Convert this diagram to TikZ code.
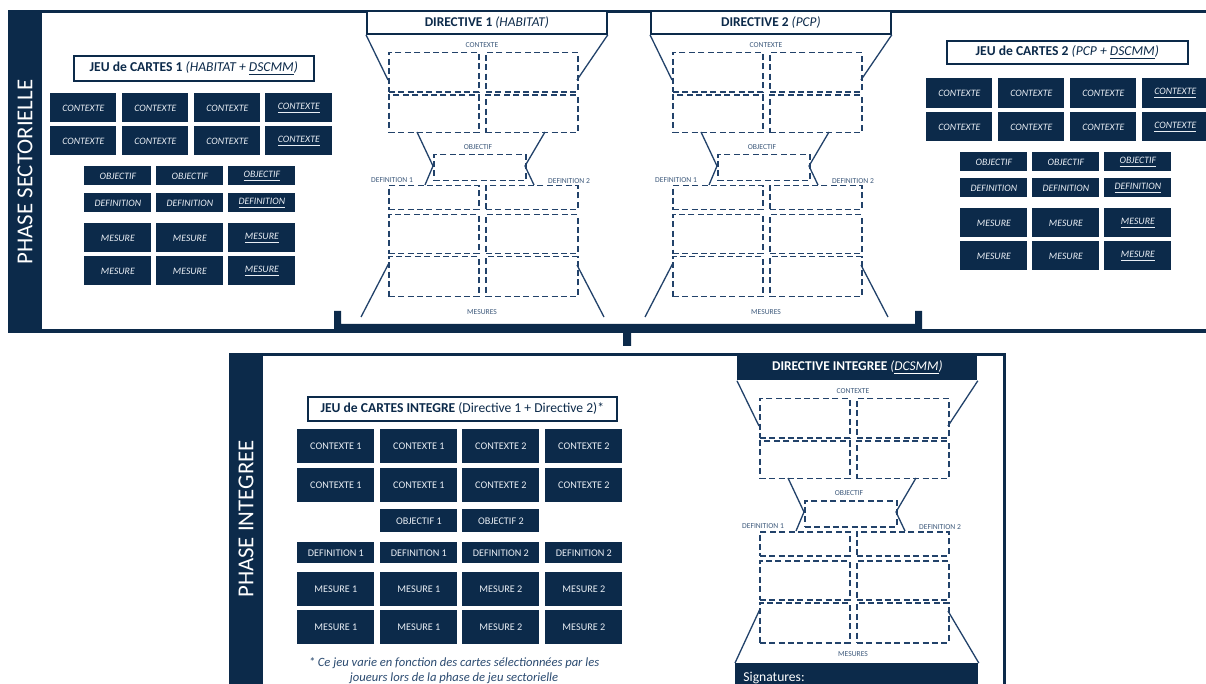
\documentclass[tikz,border=0pt]{standalone}
\usepackage{fontspec}
\setmainfont{Carlito}
\definecolor{navy}{HTML}{0C2A4A}
\definecolor{dline}{HTML}{22426A}
\definecolor{lblc}{HTML}{3E5A7C}
\definecolor{ctxt}{HTML}{E9EEF4}
\definecolor{soft}{HTML}{2A4A70}
\newcommand{\rbox}[6]{\node[#6, anchor=north west, minimum width={(#4-#2)*0.5pt}, minimum height={(#5-#3)*0.5pt}] (#1) at (#2,#3)}
\newcommand{\fs}[1]{\fontsize{#1}{#1}\selectfont}
\tikzset{
 card/.style={fill=navy, text=ctxt, inner sep=0pt, font=\fs{4.9}\itshape},
 bcard/.style={fill=navy, text=ctxt, inner sep=0pt, font=\fs{5.1}},
 titlebox/.style={draw=navy, line width=0.8pt, fill=white, text=navy, inner sep=0pt, font=\fs{6.8}},
 hdr/.style={draw=navy, line width=0.9pt, fill=white, text=navy, inner sep=0pt, font=\fs{6.7}},
 hdrdark/.style={fill=navy, text=white, inner sep=0pt, font=\fs{6.7}},
 dbox/.style={draw=dline, line width=0.75pt, dash pattern=on 3pt off 1.7pt, inner sep=0pt},
 slbl/.style={text=lblc, font=\fs{3.8}, inner sep=0pt},
 conn/.style={draw=dline, line width=0.65pt},
 phase/.style={rotate=90, text=white, font=\fs{11.4}, inner sep=0pt},
}
\newcommand{\dirbody}[4]{%
\begin{scope}[shift={(#2,#3)}]
\node[slbl] (#1-lc) at (116,35) {CONTEXTE};
\rbox{#1-ca1}{22}{42}{112}{81.5}{dbox}{};
\rbox{#1-ca2}{22}{84.5}{112}{122}{dbox}{};
\rbox{#1-cb1}{119}{42}{211}{81.5}{dbox}{};
\rbox{#1-cb2}{119}{84.5}{211}{122}{dbox}{};
\node[slbl] (#1-lo) at (112,137) {OBJECTIF};
\rbox{#1-ob}{67}{144}{159}{170}{dbox}{};
\node[slbl] (#1-ld1) at (26,170) {DEFINITION 1};
\node[slbl] (#1-ld2) at (203,171) {DEFINITION 2};
\rbox{#1-da}{22}{175}{112}{199}{dbox}{};
\rbox{#1-db}{119}{175}{211}{199}{dbox}{};
\rbox{#1-ma1}{22}{204}{112}{243}{dbox}{};
\rbox{#1-ma2}{22}{246}{112}{286}{dbox}{};
\rbox{#1-mb1}{119}{204}{211}{243}{dbox}{};
\rbox{#1-mb2}{119}{246}{211}{286}{dbox}{};
\node[slbl] (#1-lm) at (116,#4) {MESURES};
\coordinate (#1-p1) at (22,70);
\coordinate (#1-p2) at (211,70);
\coordinate (#1-p3) at (51,122);
\coordinate (#1-p4) at (67,156);
\coordinate (#1-p5) at (59,175);
\coordinate (#1-p6) at (179,122);
\coordinate (#1-p7) at (159,156);
\coordinate (#1-p8) at (168,175);
\coordinate (#1-p9) at (23,253);
\coordinate (#1-p10) at (211,255);
\end{scope}
\draw[conn] (#1-hdr.south west) -- (#1-p1);
\draw[conn] (#1-hdr.south east) -- (#1-p2);
\draw[conn] (#1-p3) -- (#1-p4) -- (#1-p5);
\draw[conn] (#1-p6) -- (#1-p7) -- (#1-p8);
\draw[conn] (#1-p9) -- (#1-bl);
\draw[conn] (#1-p10) -- (#1-br);
}
\begin{document}
\begin{tikzpicture}[x=0.5pt,y=-0.5pt]
\useasboundingbox (0,0) rectangle (1206,684);
\fill[white] (0,0) rectangle (1206,684);
% ---------- top panel
\fill[navy] (8,10) rectangle (42,333);
\fill[navy] (8,10) rectangle (1206,13);
\fill[navy] (8,329) rectangle (1206,333);
\fill[navy] (334,311) -- (341,311) -- (341,324) -- (915,324) -- (915,311) -- (922,311)
  -- (922,333) -- (631,333) -- (631,346) -- (623,346) -- (623,333) -- (334,333) -- cycle;
\node[phase] (ps) at (25,172) {PHASE SECTORIELLE};
% ---------- bottom panel
\fill[navy] (229,354) rectangle (263,684);
\fill[navy] (229,353) rectangle (1006,356);
\fill[navy] (1003,353) rectangle (1006,684);
\node[phase] (pi) at (246,519) {PHASE INTEGREE};

% ---------- cards 1
\rbox{t1}{73}{55}{313}{80}{titlebox}{\textbf{JEU de CARTES 1} \textit{(HABITAT + \underline{DSCMM})}};
\rbox{a11}{50}{93}{116}{122}{card}{CONTEXTE};
\rbox{a12}{122}{93}{188}{122}{card}{CONTEXTE};
\rbox{a13}{194}{93}{260}{122}{card}{CONTEXTE};
\rbox{a14}{265}{93}{332}{122}{card}{\underline{CONTEXTE}};
\rbox{a21}{50}{126}{116}{155}{card}{CONTEXTE};
\rbox{a22}{122}{126}{188}{155}{card}{CONTEXTE};
\rbox{a23}{194}{126}{260}{155}{card}{CONTEXTE};
\rbox{a24}{265}{126}{332}{155}{card}{\underline{CONTEXTE}};
\rbox{a31}{84}{166}{151}{185}{card}{OBJECTIF};
\rbox{a32}{156}{166}{223}{185}{card}{OBJECTIF};
\rbox{a33}{228}{166}{295}{185}{card}{\underline{OBJECTIF}};
\rbox{a41}{84}{193}{151}{212}{card}{DEFINITION};
\rbox{a42}{156}{193}{223}{212}{card}{DEFINITION};
\rbox{a43}{228}{193}{295}{212}{card}{\underline{DEFINITION}};
\rbox{a51}{84}{223}{151}{252}{card}{MESURE};
\rbox{a52}{156}{223}{223}{252}{card}{MESURE};
\rbox{a53}{228}{223}{295}{252}{card}{\underline{MESURE}};
\rbox{a61}{84}{256}{151}{285}{card}{MESURE};
\rbox{a62}{156}{256}{223}{285}{card}{MESURE};
\rbox{a63}{228}{256}{295}{285}{card}{\underline{MESURE}};

% ---------- cards 2
\rbox{t2}{946}{40}{1187}{63}{titlebox}{\textbf{JEU de CARTES 2} \textit{(PCP + \underline{DSCMM})}};
\rbox{b11}{926}{78}{992}{108}{card}{CONTEXTE};
\rbox{b12}{998}{78}{1064}{108}{card}{CONTEXTE};
\rbox{b13}{1070}{78}{1136}{108}{card}{CONTEXTE};
\rbox{b14}{1142}{78}{1208}{108}{card}{\underline{CONTEXTE}};
\rbox{b21}{926}{112}{992}{141}{card}{CONTEXTE};
\rbox{b22}{998}{112}{1064}{141}{card}{CONTEXTE};
\rbox{b23}{1070}{112}{1136}{141}{card}{CONTEXTE};
\rbox{b24}{1142}{112}{1208}{141}{card}{\underline{CONTEXTE}};
\rbox{b31}{960}{152}{1027}{171}{card}{OBJECTIF};
\rbox{b32}{1032}{152}{1099}{171}{card}{OBJECTIF};
\rbox{b33}{1104}{152}{1171}{171}{card}{\underline{OBJECTIF}};
\rbox{b41}{960}{178}{1027}{197}{card}{DEFINITION};
\rbox{b42}{1032}{178}{1099}{197}{card}{DEFINITION};
\rbox{b43}{1104}{178}{1171}{197}{card}{\underline{DEFINITION}};
\rbox{b51}{960}{208}{1027}{237}{card}{MESURE};
\rbox{b52}{1032}{208}{1099}{237}{card}{MESURE};
\rbox{b53}{1104}{208}{1171}{237}{card}{\underline{MESURE}};
\rbox{b61}{960}{241}{1027}{270}{card}{MESURE};
\rbox{b62}{1032}{241}{1099}{270}{card}{MESURE};
\rbox{b63}{1104}{241}{1171}{270}{card}{\underline{MESURE}};

% ---------- integrated cards
\rbox{t3}{307}{396}{616}{420}{titlebox}{\textbf{JEU de CARTES INTEGRE} (Directive 1 + Directive 2)*};
\rbox{c11}{297}{429}{374}{463}{bcard}{CONTEXTE 1};
\rbox{c12}{380}{429}{457}{463}{bcard}{CONTEXTE 1};
\rbox{c13}{462}{429}{539}{463}{bcard}{CONTEXTE 2};
\rbox{c14}{545}{429}{622}{463}{bcard}{CONTEXTE 2};
\rbox{c21}{297}{468}{374}{502}{bcard}{CONTEXTE 1};
\rbox{c22}{380}{468}{457}{502}{bcard}{CONTEXTE 1};
\rbox{c23}{462}{468}{539}{502}{bcard}{CONTEXTE 2};
\rbox{c24}{545}{468}{622}{502}{bcard}{CONTEXTE 2};
\rbox{c32}{380}{509}{457}{532}{bcard}{OBJECTIF 1};
\rbox{c33}{462}{509}{539}{532}{bcard}{OBJECTIF 2};
\rbox{c41}{297}{542}{374}{563}{bcard}{DEFINITION 1};
\rbox{c42}{380}{542}{457}{563}{bcard}{DEFINITION 1};
\rbox{c43}{462}{542}{539}{563}{bcard}{DEFINITION 2};
\rbox{c44}{545}{542}{622}{563}{bcard}{DEFINITION 2};
\rbox{c51}{297}{572}{374}{606}{bcard}{MESURE 1};
\rbox{c52}{380}{572}{457}{606}{bcard}{MESURE 1};
\rbox{c53}{462}{572}{539}{606}{bcard}{MESURE 2};
\rbox{c54}{545}{572}{622}{606}{bcard}{MESURE 2};
\rbox{c61}{297}{610}{374}{644}{bcard}{MESURE 1};
\rbox{c62}{380}{610}{457}{644}{bcard}{MESURE 1};
\rbox{c63}{462}{610}{539}{644}{bcard}{MESURE 2};
\rbox{c64}{545}{610}{622}{644}{bcard}{MESURE 2};
\node[text=soft, font=\fontsize{6.3}{7.6}\selectfont\itshape, align=center, inner sep=0pt] (fn) at (454,671)
  {* Ce jeu varie en fonction des cartes sélectionnées par les\\joueurs lors de la phase de jeu sectorielle};

% ---------- directive 1
\rbox{d1-hdr}{366}{10}{606}{33}{hdr}{\textbf{DIRECTIVE 1} \textit{(HABITAT)}};
\coordinate (d1-bl) at (361,317);
\coordinate (d1-br) at (604,317);
\dirbody{d1}{366}{10}{302}
% ---------- directive 2
\rbox{d2-hdr}{650}{10}{890}{33}{hdr}{\textbf{DIRECTIVE 2} \textit{(PCP)}};
\coordinate (d2-bl) at (645,317);
\coordinate (d2-br) at (888,317);
\dirbody{d2}{650}{10}{302}
% ---------- directive integree
\rbox{di-hdr}{737}{354}{977}{380}{hdrdark}{\textbf{DIRECTIVE INTEGREE} \textit{(\underline{DCSMM})}};
\rbox{sig}{735}{663}{978}{692}{hdrdark}{};
\node[anchor=base west, text=white, font=\fs{6.8}, inner sep=0pt] (sigt) at (743,681) {Signatures:};
\coordinate (di-bl) at (sig.north west);
\coordinate (di-br) at (sig.north east);
\dirbody{di}{737}{356}{298}
\end{tikzpicture}
\end{document}
